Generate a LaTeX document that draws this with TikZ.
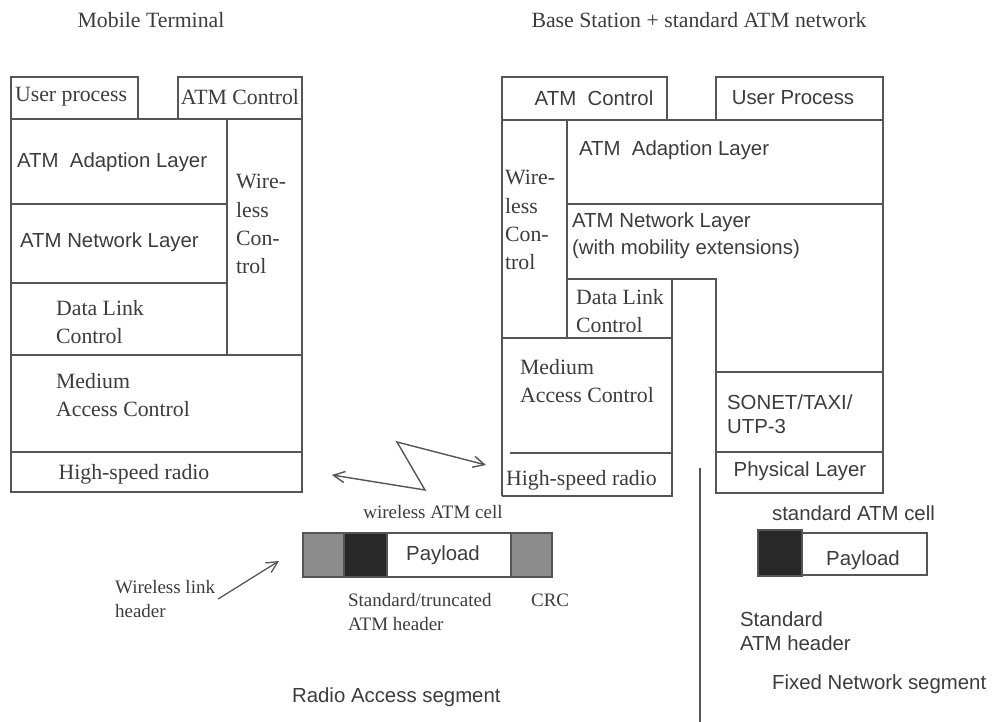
\documentclass[tikz,border=0pt]{standalone}
\usepackage{fontspec}
\setmainfont{Liberation Serif}
\newfontfamily\sansfam{Liberation Sans}
\usetikzlibrary{arrows.meta}
\definecolor{inkgray}{RGB}{60,60,60}
\definecolor{linegray}{RGB}{85,85,85}
\definecolor{dotgray}{RGB}{140,140,140}
\definecolor{hdrblack}{RGB}{40,40,40}
\begin{document}
\begin{tikzpicture}[x=0.025cm,y=-0.025cm,
  layerline/.style={draw=linegray,line width=1.1pt},
  lbl/.style={text=inkgray,inner sep=2pt,align=left},
  rmlbl/.style={lbl,font=\fontsize{15.5}{20}\selectfont},
  smlbl/.style={lbl,font=\fontsize{13.5}{17.5}\selectfont},
  sflbl/.style={lbl,font=\sansfam\fontsize{14.5}{17}\selectfont},
  barb/.tip={Straight Barb[length=8pt,width=8pt]}]
\useasboundingbox (0,0) rectangle (996,722);

\node[rmlbl] (hdrmobile) at (151,20) {Mobile Terminal};
\node[rmlbl] (hdrbase) at (699,20) {Base Station + standard ATM network};

\draw[layerline] (11,77) rectangle (138,119);
\draw[layerline] (178,77) rectangle (302,119);
\draw[layerline] (11,119) rectangle (302,492);
\draw[layerline] (227,119) -- (227,355);
\draw[layerline] (11,204) -- (227,204);
\draw[layerline] (11,283) -- (227,283);
\draw[layerline] (11,355) -- (302,355);
\draw[layerline] (11,452) -- (302,452);

\node[rmlbl,anchor=west] (lproc) at (12,97) {User process};
\node[rmlbl] (lctrl) at (240,97) {ATM Control};
\node[sflbl,anchor=west] (laal) at (14,162) {ATM~ Adaption Layer};
\node[sflbl,anchor=west] (lnet) at (17,242) {ATM Network Layer};
\node[rmlbl,anchor=west] (lwire) at (233,224) {Wire-\\less\\Con-\\trol};
\node[rmlbl,anchor=west] (ldlc) at (53,322) {Data Link\\Control};
\node[rmlbl,anchor=west] (lmac) at (53,395) {Medium\\Access Control};
\node[rmlbl] (lradio) at (134,474) {High-speed radio};

\draw[layerline] (502,77) rectangle (667,120);
\draw[layerline] (716,77) rectangle (883,120);
\draw[layerline] (502,496) -- (502,120) -- (883,120) -- (883,493) -- (716,493) -- (716,279) -- (567,279);
\draw[layerline] (567,120) -- (567,338);
\draw[layerline] (567,204) -- (883,204);
\draw[layerline] (716,372) -- (883,372);
\draw[layerline] (716,452) -- (883,452);
\draw[layerline] (502,496) -- (672,496) -- (672,279);
\draw[layerline] (502,338) -- (672,338);
\draw[layerline] (510,453) -- (672,453);

\node[sflbl] (rctrl) at (594,98) {ATM~ Control};
\node[sflbl] (rproc) at (793,98) {User Process};
\node[sflbl,anchor=west] (raal) at (576,150) {ATM~ Adaption Layer};
\node[rmlbl,anchor=west] (rwire) at (502,220) {Wire-\\less\\Con-\\trol};
\node[sflbl,anchor=west,font=\sansfam\fontsize{14.5}{19}\selectfont] (rnet) at (569,236) {ATM Network Layer\\(with mobility extensions)};
\node[rmlbl,anchor=west] (rdlc) at (573,311) {Data Link\\Control};
\node[rmlbl,anchor=west] (rmac) at (517,381) {Medium\\Access Control};
\node[sflbl,anchor=west] (rsonet) at (724,414) {SONET/TAXI/\\UTP-3};
\node[sflbl] (rphys) at (800,471) {Physical Layer};
\node[rmlbl,anchor=west] (rradio) at (503,480) {High-speed radio};

\coordinate (zzleft) at (332,475);
\coordinate (zzlow) at (425,490);
\coordinate (zzhigh) at (397,442);
\coordinate (zzright) at (486,465);
\draw[layerline,line width=1pt,barb-barb] (zzleft) -- (zzlow) -- (zzhigh) -- (zzright);

\node[smlbl] (wcell) at (433,512) {wireless ATM cell};
\draw[layerline,fill=dotgray] (303,533) rectangle (344,577);
\draw[layerline,fill=hdrblack] (344,533) rectangle (387,577);
\draw[layerline,fill=white] (387,533) rectangle (511,577);
\draw[layerline,fill=dotgray] (511,533) rectangle (552,577);
\node[sflbl] (wpay) at (443,555) {Payload};

\node[smlbl,anchor=west] (whdr) at (112,599) {Wireless link\\header};
\coordinate (whdrtip) at (279,561);
\draw[layerline,line width=0.9pt,-barb] (whdr.east) -- (whdrtip);
\node[smlbl,anchor=west] (trunc) at (345,612) {Standard/truncated\\ATM header};
\node[smlbl,anchor=west] (crc) at (528,600) {CRC};
\node[sflbl,anchor=west] (radioseg) at (289,697) {Radio Access segment};

\coordinate (divtop) at (700,468);
\coordinate (divbot) at (700,722);
\draw[layerline] (divtop) -- (divbot);

\node[sflbl,anchor=west] (scell) at (769,513) {standard ATM cell};
\draw[layerline,fill=white] (802,533) rectangle (927,575);
\draw[layerline,fill=hdrblack] (758,530) rectangle (802,576);
\node[sflbl] (spay) at (863,560) {Payload};
\node[sflbl,anchor=west] (shdr) at (737,631) {Standard\\ATM header};
\node[sflbl,anchor=west] (fixseg) at (769,684) {Fixed Network segment};
\end{tikzpicture}
\end{document}
